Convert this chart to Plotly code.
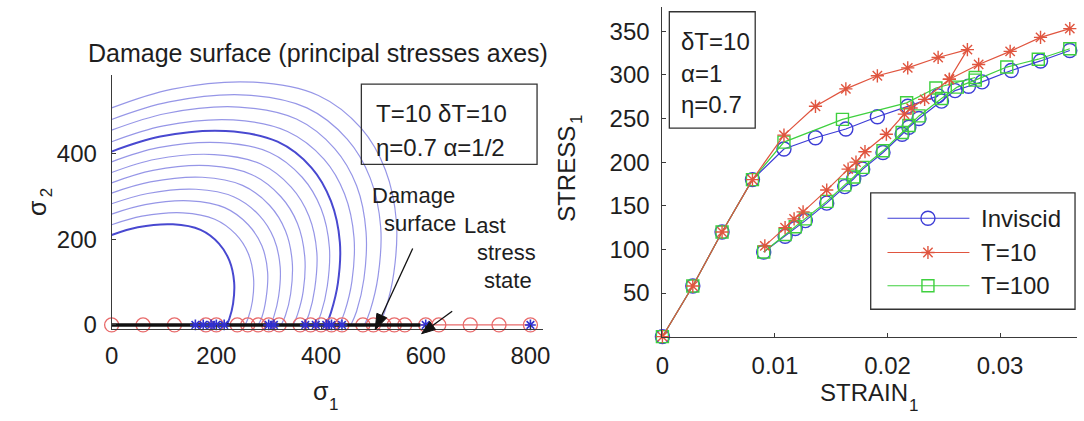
import math
import plotly.graph_objects as go

# ---------------- left panel: damage surfaces (principal stress axes) ----------------
surf_s1 = [
    [0, 50, 117, 170, 205, 225, 234, 232, 225, 220],
    [0, 58, 136, 197, 237, 261, 271, 269, 261, 255],
    [0, 64, 149, 216, 261, 287, 298, 295, 287, 280],
    [0, 69, 161, 234, 282, 310, 322, 319, 310, 303],
    [0, 74, 173, 250, 302, 332, 345, 342, 332, 324],
    [0, 79, 185, 268, 323, 355, 369, 366, 355, 347],
    [0, 84, 196, 285, 343, 377, 392, 388, 377, 368],
    [0, 89, 208, 302, 364, 400, 416, 412, 400, 391],
    [0, 93, 218, 317, 382, 419, 436, 432, 419, 410],
    [0, 99, 232, 336, 406, 445, 463, 459, 445, 435],
    [0, 104, 243, 353, 426, 468, 486, 482, 468, 457],
    [0, 110, 257, 373, 450, 494, 514, 509, 494, 483],
    [0, 116, 272, 395, 477, 523, 544, 539, 523, 511],
]
surf_s2 = [
    [210, 228, 235, 222, 190, 150, 100, 50, 15, 0],
    [234, 254, 262, 247, 212, 167, 111, 56, 17, 0],
    [259, 281, 290, 274, 234, 185, 123, 62, 18, 0],
    [283, 307, 317, 299, 256, 202, 135, 67, 20, 0],
    [308, 334, 345, 326, 279, 220, 147, 73, 22, 0],
    [332, 361, 372, 351, 300, 237, 158, 79, 24, 0],
    [356, 387, 398, 376, 322, 254, 169, 85, 25, 0],
    [381, 414, 426, 403, 345, 272, 181, 91, 27, 0],
    [405, 440, 453, 428, 367, 289, 193, 96, 29, 0],
    [428, 465, 479, 452, 387, 306, 204, 102, 30, 0],
    [455, 494, 509, 481, 412, 325, 217, 108, 32, 0],
    [480, 521, 537, 507, 434, 343, 228, 114, 34, 0],
    [507, 551, 567, 536, 459, 362, 241, 121, 36, 0],
]
dark_surfaces = [0, 8]

# stress path along the sigma_1 axis
path_s1 = [0, 60, 120, 180, 200, 240, 260, 280, 300, 320, 360, 380, 400, 420, 440,
           480, 500, 520, 540, 560, 600, 625, 685, 740, 800]
visc_s1 = [160, 175, 190, 200, 215, 300, 310, 370, 390, 410, 420, 440, 600]
final_s1 = [800]
history_s1 = [0, 590]

# ---------------- right panel: stress-strain response ----------------
strain_inv_a = [0, 0.0027, 0.0053, 0.0080, 0.0108, 0.0136, 0.0163, 0.0191, 0.0218, 0.0245]
stress_inv_a = [0, 58, 120, 180, 215, 228, 238, 252, 264, 276]
strain_inv_b = [0.0090, 0.0109, 0.0118, 0.0127, 0.0146, 0.0162, 0.0170, 0.0178, 0.0196,
                0.0213, 0.0219, 0.0228, 0.0248, 0.0260, 0.0272, 0.0284, 0.0310, 0.0336, 0.0362]
stress_inv_b = [97, 115, 124, 133, 153, 172, 181, 192, 211, 232, 240, 250, 270, 282, 287,
                292, 305, 316, 328]

strain_t10_a = [0, 0.0027, 0.0053, 0.0080, 0.0108, 0.0136, 0.0163, 0.0191, 0.0218, 0.0245, 0.0271]
stress_t10_a = [0, 58, 120, 180, 231, 264, 284, 299, 308, 320, 329]
strain_t10_b = [0.0091, 0.0109, 0.0117, 0.0125, 0.0146, 0.0165, 0.0172, 0.0180, 0.0199,
                0.0215, 0.0221, 0.0233, 0.0255, 0.0281, 0.0309, 0.0336, 0.0362]
stress_t10_b = [104, 125, 135, 143, 168, 192, 200, 212, 232, 255, 262, 272, 295, 312, 327,
                343, 353]

strain_t100_a = [0, 0.0027, 0.0053, 0.0080, 0.0108, 0.0160, 0.0217, 0.0243, 0.0278]
stress_t100_a = [0, 58, 120, 180, 223, 249, 268, 285, 297]
strain_t100_b = [0.0090, 0.0109, 0.0118, 0.0127, 0.0146, 0.0162, 0.0170, 0.0178, 0.0196,
                 0.0213, 0.0219, 0.0228, 0.0248, 0.0262, 0.0278, 0.0306, 0.0334, 0.0362]
stress_t100_b = [97, 117, 126, 135, 155, 174, 183, 194, 213, 234, 242, 253, 273, 286, 294,
                 309, 318, 330]

legend_names = ["Inviscid", "T=10", "T=100"]

BLUE = "#3c3cd6"
RED = "#e0553f"
GREEN = "#3fd03f"
FONT = "Liberation Sans, Arial, sans-serif"
AX = "#3a3a3a"
TXT = "#1e1e1e"

fig = go.Figure()

# damage surfaces
for i, (xs, ys) in enumerate(zip(surf_s1, surf_s2)):
    dark = i in dark_surfaces
    fig.add_trace(go.Scatter(
        x=xs, y=ys, mode="lines", xaxis="x", yaxis="y",
        line=dict(color="rgba(40,40,200,0.85)" if dark else "rgba(80,80,215,0.6)",
                  width=2.0 if dark else 1.2, shape="spline", smoothing=1.0),
        showlegend=False, hoverinfo="skip"))

fig.add_trace(go.Scatter(
    x=path_s1, y=[0] * len(path_s1), mode="lines+markers", xaxis="x", yaxis="y",
    line=dict(color="#e86a6a", width=1.2),
    marker=dict(symbol="circle-open", size=14, color="#e86a6a", line=dict(width=1.3)),
    showlegend=False, cliponaxis=False))
fig.add_trace(go.Scatter(
    x=history_s1, y=[0, 0], mode="lines", xaxis="x", yaxis="y",
    line=dict(color="#111111", width=3.5), showlegend=False, cliponaxis=False))
fig.add_trace(go.Scatter(
    x=visc_s1 + final_s1, y=[0] * (len(visc_s1) + 1), mode="markers", xaxis="x", yaxis="y",
    marker=dict(symbol="asterisk-open", size=9, color="#3030d0", line=dict(width=1.6)),
    showlegend=False, cliponaxis=False))


def joined(xa, ya, xb, yb, join=None):
    """First branch, then the second branch; optionally bridge to point `join` of it."""
    if join is None:
        return xa + [None] + xb, ya + [None] + yb
    xs = xa + xb[:join + 1][::-1] + [None] + xb[join:]
    ys = ya + yb[:join + 1][::-1] + [None] + yb[join:]
    return xs, ys


series = [
    (strain_inv_a, stress_inv_a, strain_inv_b, stress_inv_b, None, BLUE,
     dict(symbol="circle-open", size=14)),
    (strain_t100_a, stress_t100_a, strain_t100_b, stress_t100_b, None, GREEN,
     dict(symbol="square-open", size=12)),
    (strain_t10_a, stress_t10_a, strain_t10_b, stress_t10_b, 12, RED,
     dict(symbol="asterisk-open", size=11)),
]
for xa, ya, xb, yb, join, col, mk in series:
    xs, ys = joined(xa, ya, xb, yb, join)
    fig.add_trace(go.Scatter(
        x=xs, y=ys, mode="lines+markers", xaxis="x2", yaxis="y2",
        line=dict(color=col, width=1.2),
        marker=dict(color=col, line=dict(width=1.4, color=col), **mk),
        showlegend=False, cliponaxis=False, connectgaps=False))

# legend samples drawn on a pixel overlay
leg_y = [223, 258, 292]
leg_marks = [dict(symbol="circle-open", size=14), dict(symbol="asterisk-open", size=11),
             dict(symbol="square-open", size=12)]
for yy, col, mk in zip(leg_y, [BLUE, RED, GREEN], leg_marks):
    fig.add_trace(go.Scatter(
        x=[892, 975], y=[yy, yy], mode="lines", xaxis="x3", yaxis="y3",
        line=dict(color=col, width=1.2), showlegend=False, hoverinfo="skip"))
    fig.add_trace(go.Scatter(
        x=[933], y=[yy], mode="markers", xaxis="x3", yaxis="y3",
        marker=dict(color=col, line=dict(width=1.4, color=col), **mk),
        showlegend=False, hoverinfo="skip"))


def label(x, y, text, size=24, anchor="center", angle=0):
    return dict(x=x, y=y, xref="x3", yref="y3", text=text, showarrow=False,
                xanchor=anchor, yanchor="middle", textangle=angle,
                font=dict(size=size, color=TXT, family=FONT))


ann = [label(985, yy, name, 24, "left") for name, yy in zip(legend_names, leg_y)]

ann += [
    label(80, 54, "Damage surface (principal stresses axes)", 25, "left"),
    # parameter boxes
    label(372, 116, "T=10 δT=10", 24, "left"),
    label(372, 151, "η=0.7 α=1/2", 24, "left"),
    label(681, 42, "δT=10", 24, "left"),
    label(681, 75, "α=1", 24, "left"),
    label(681, 107, "η=0.7", 24, "left"),
    # axis titles (subscripts as separate, smaller text)
    label(31, 213, "σ", 25, angle=-90),
    label(40, 197, "2", 17, angle=-90),
    label(318, 400, "σ", 25),
    label(331, 413, "1", 17),
    label(567, 178, "STRESS", 24, angle=-90),
    label(577, 122, "1", 17, angle=-90),
    label(868, 401, "STRAIN", 24),
    label(918, 414, "1", 17),
    # call-outs
    label(412, 200, "Damage", 22),
    label(418, 228, "surface", 22),
    label(484, 230, "Last", 22),
    label(506, 258, "stress", 22),
    label(508, 287, "state", 22),
]


def arrow_shapes(tail, tip, head_len=16, head_half=5.5):
    """Straight black call-out arrow with a filled head, in page pixels."""
    dx, dy = tip[0] - tail[0], tip[1] - tail[1]
    n = math.hypot(dx, dy)
    ux, uy = dx / n, dy / n
    bx, by = tip[0] - head_len * ux, tip[1] - head_len * uy
    px, py = -uy, ux
    p1 = (bx + head_half * px, by + head_half * py)
    p2 = (bx - head_half * px, by - head_half * py)
    return [
        dict(type="line", x0=tail[0], y0=tail[1], x1=bx, y1=by, xref="x3", yref="y3",
             line=dict(color="#111", width=1.3)),
        dict(type="path", xref="x3", yref="y3",
             path=f"M{tip[0]},{tip[1]} L{p1[0]:.1f},{p1[1]:.1f} L{p2[0]:.1f},{p2[1]:.1f} Z",
             fillcolor="#111", line=dict(color="#111", width=1)),
    ]


shapes = [
    dict(type="rect", x0=359, x1=537, y0=86, y1=168, xref="x3", yref="y3",
         line=dict(color="#333", width=1.3)),
    dict(type="rect", x0=671, x1=758, y0=12, y1=131, xref="x3", yref="y3",
         line=dict(color="#333", width=1.3)),
    dict(type="rect", x0=875, x1=1082, y0=197, y1=316, xref="x3", yref="y3",
         line=dict(color="#333", width=1.3), fillcolor="white", layer="below"),
]
shapes += arrow_shapes((411, 254), (373, 337))
shapes += arrow_shapes((451, 318), (420, 341), head_len=14, head_half=5)

W, H = 1084, 421


def px_dom(a, b, total):
    return [a / total, b / total]


axis_common = dict(showline=True, linecolor=AX, linewidth=1, ticks="inside",
                   ticklen=4, tickcolor=AX, showgrid=False, zeroline=False,
                   tickfont=dict(family=FONT, size=24, color=TXT), mirror=False)

fig.update_layout(
    width=W, height=H, margin=dict(l=0, r=0, t=0, b=0),
    paper_bgcolor="white", plot_bgcolor="rgba(0,0,0,0)",
    font=dict(family=FONT, color=TXT),
    xaxis=dict(domain=px_dom(106, 543, W), range=[0, 824], tickvals=[0, 200, 400, 600, 800],
               anchor="y", ticklabelstandoff=5, **axis_common),
    yaxis=dict(domain=[1 - 336 / H, 1 - 77 / H], range=[-9, 583], tickvals=[0, 200, 400],
               anchor="x", ticklabelstandoff=9, **axis_common),
    xaxis2=dict(domain=px_dom(664, 1084, W), range=[0, 0.03684],
                tickvals=[0, 0.01, 0.02, 0.03], ticktext=["0", "0.01", "0.02", "0.03"],
                anchor="y2", ticklabelstandoff=8, **axis_common),
    yaxis2=dict(domain=[1 - 344 / H, 1 - 7 / H], range=[0, 378],
                tickvals=[50, 100, 150, 200, 250, 300, 350],
                anchor="x2", ticklabelstandoff=7, **axis_common),
    xaxis3=dict(domain=[0, 1], range=[0, W], visible=False, anchor="y3"),
    yaxis3=dict(domain=[0, 1], range=[H, 0], visible=False, anchor="x3"),
    annotations=ann, shapes=shapes, showlegend=False,
)

fig.write_html("out.html")
